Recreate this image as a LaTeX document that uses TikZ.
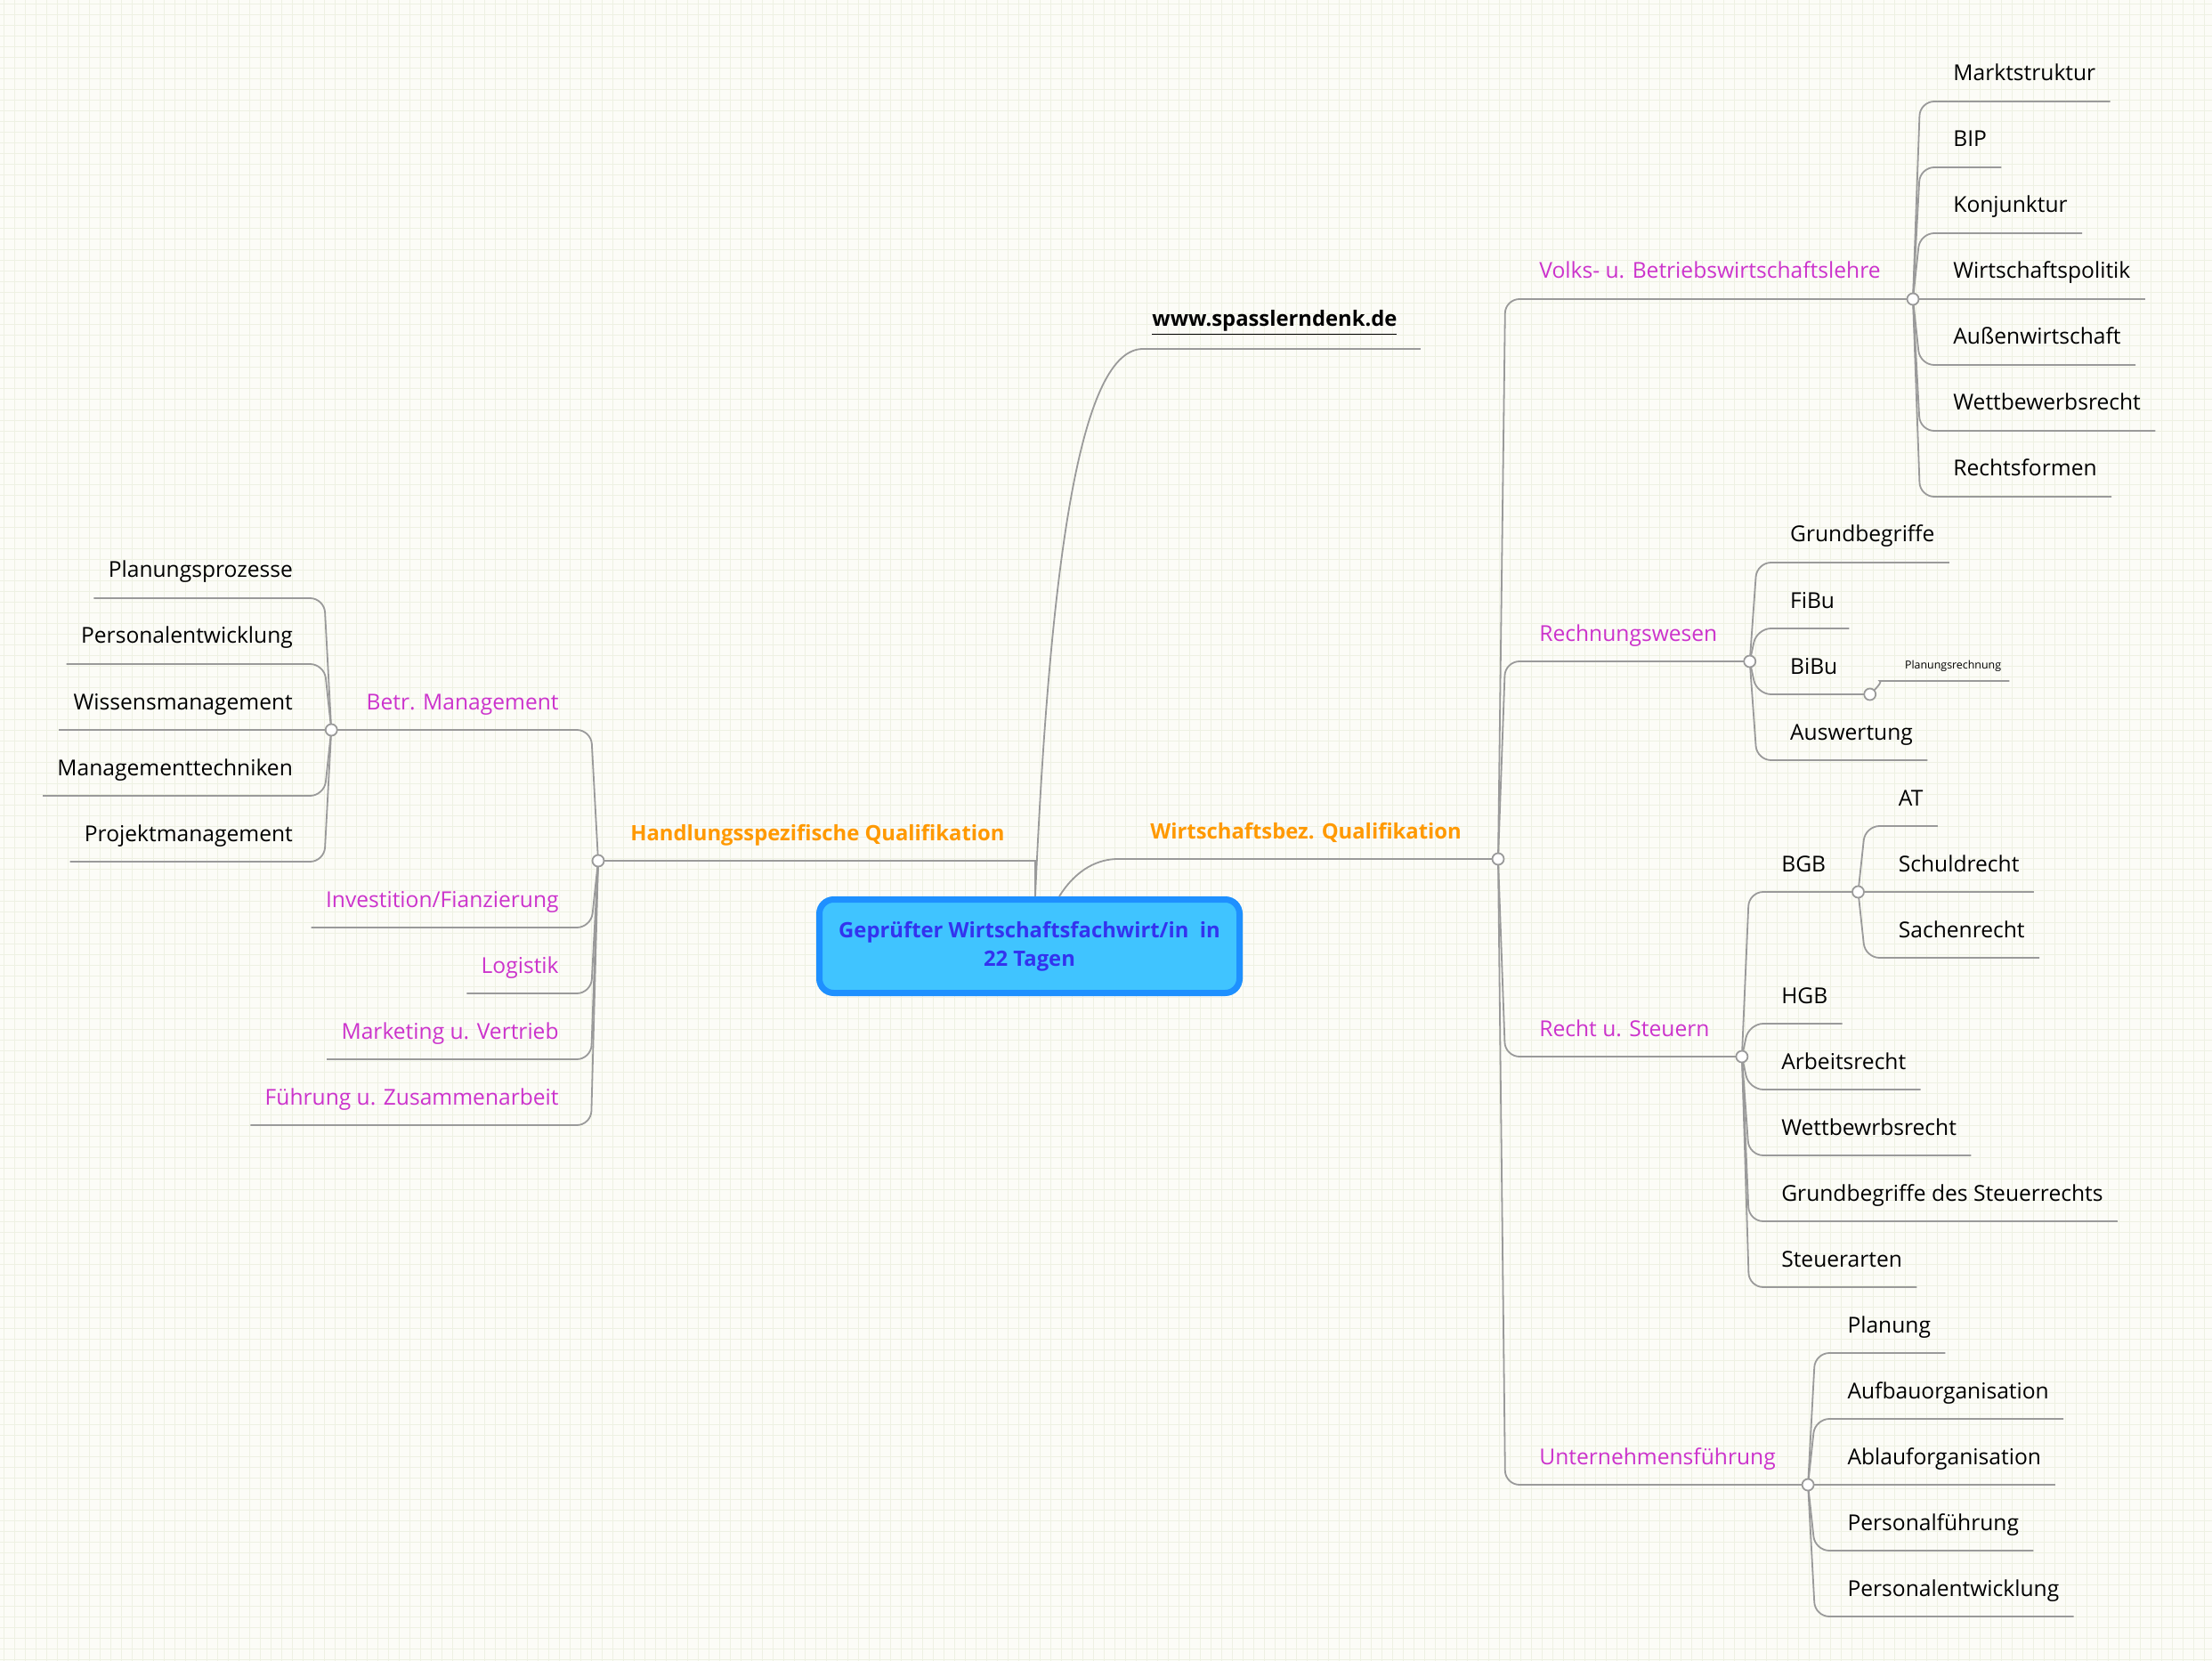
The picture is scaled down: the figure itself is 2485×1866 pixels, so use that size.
\documentclass[tikz,border=0pt]{standalone}
\usepackage{fontspec}
\setmainfont{Open Sans}
\usetikzlibrary{positioning,calc}
\definecolor{linegray}{HTML}{9A9A9A}
\definecolor{topicpink}{HTML}{CC33CC}
\definecolor{mainorange}{HTML}{FF9900}
\definecolor{rootblue}{HTML}{3333EE}
\definecolor{rootfill}{HTML}{40C4FF}
\definecolor{rootedge}{HTML}{1E90FF}
\definecolor{paper}{HTML}{FCFCF7}
\definecolor{gridline}{HTML}{EEF1E3}

\begin{document}
\begin{tikzpicture}[x=0.5pt,y=-0.5pt,
  every node/.style={inner sep=0pt,font=\fontsize{12.3}{16}\selectfont},
  leaf/.style={anchor=base west},
  leafl/.style={anchor=base east},
  topic/.style={text=topicpink},
  mainlab/.style={text=mainorange,font=\fontsize{11.9}{16}\selectfont\bfseries},
  branch/.style={draw=linegray,line width=0.9pt,rounded corners=8pt},
  knob/.style={circle,draw=linegray,fill=white,line width=0.9pt,minimum size=6.5pt},
  rootbox/.style={draw=rootedge,fill=rootfill,line width=3.5pt,rounded corners=8pt,
    text=rootblue,align=center,minimum width=236pt,minimum height=52.5pt,
    font=\fontsize{11.9}{16}\selectfont\bfseries}]
\useasboundingbox (0,0) rectangle (2485,1866);
\fill[paper] (0,0) rectangle (2485,1866);
\draw[gridline,line width=0.5pt,step=6pt,shift={(4.3,4.3)}] (-4.3,-4.3) grid (2481,1862);

% centre topic
\node[rootbox] (root) at (1156.5,1063) {Geprüfter Wirtschaftsfachwirt/in\ \ in\\22 Tagen};
\coordinate (hub) at ($(root.north)+(6.5,0)$);
\coordinate (hubr) at ($(root.north)+(33.5,0)$);

% web link
\node[leaf,font=\fontsize{11.9}{16}\selectfont\bfseries] (web) at (1294,367) {\underline{www.spasslerndenk.de}};
\draw[branch] (hub) .. controls (1180,620) and (1215,392) .. (1300,392) -- ($(web.base east)+(26,25)$);

% main branches
\coordinate (rj) at (1683,965);
\coordinate (lj) at (672,967);
\draw[branch] (hubr) .. controls (1210,975) and (1235,965) .. (1272,965) -- (rj);
\draw[branch,rounded corners=0pt] (hub) |- (lj);
\node[mainlab,leaf] (wq) at (1292,942) {Wirtschaftsbez. Qualifikation};
\node[mainlab,leaf] (hq) at (708,944) {Handlungsspezifische Qualifikation};

% right topics
\foreach \name/\y/\txt in {vbw/336/{Volks- u. Betriebswirtschaftslehre},rw/743/Rechnungswesen,rst/1187/{Recht u. Steuern},uf/1668/Unternehmensführung} {
  \node[topic,leaf] (t\name) at (1729,{\y-23}) {\txt};
  \coordinate (\name) at ($(t\name.base east)+(36,23)$);
  \draw[branch] (rj) -- (1691,\y) -- (\name);
}

% Volks- u. Betriebswirtschaftslehre
\foreach \i/\txt in {0/Marktstruktur,1/BIP,2/Konjunktur,3/Wirtschaftspolitik,4/Außenwirtschaft,5/Wettbewerbsrecht,6/Rechtsformen} {
  \node[leaf] (vbw\i) at ($(vbw)+(45,{74*(\i-3)-23})$) {\txt};
  \draw[branch] (vbw) -- ++(8,{74*(\i-3)}) -- ($(vbw\i.base east)+(16,23)$);
}

% Rechnungswesen
\foreach \i/\txt in {0/Grundbegriffe,1/FiBu,3/Auswertung} {
  \node[leaf] (rw\i) at ($(rw)+(45,{74*\i-111-23})$) {\txt};
  \draw[branch] (rw) -- ++(8,{74*\i-111}) -- ($(rw\i.base east)+(16,23)$);
}
\node[leaf] (rw2) at ($(rw)+(45,14)$) {BiBu};
\coordinate (bibu) at ($(rw2.base east)+(36,23)$);
\draw[branch] (rw) -- ++(8,37) -- (bibu);
\node[leaf,font=\fontsize{6.2}{8}\selectfont] (plr) at ($(bibu)+(39,-29)$) {Planungsrechnung};
\draw[branch] (bibu) .. controls +(12,-11) and +(-14,0) .. ($(bibu)+(27,-15)$) -- ($(plr.base east)+(9,14)$);

% Recht u. Steuern
\node[leaf] (bgb) at ($(rst)+(44,-208)$) {BGB};
\coordinate (bgbj) at ($(bgb.base east)+(36,23)$);
\draw[branch] (rst) -- ++(8,-185) -- (bgbj);
\foreach \i/\txt in {0/AT,1/Schuldrecht,2/Sachenrecht} {
  \node[leaf] (bgb\i) at ($(bgbj)+(45,{74*(\i-1)-23})$) {\txt};
  \draw[branch] (bgbj) -- ++(8,{74*(\i-1)}) -- ($(bgb\i.base east)+(16,23)$);
}
\foreach \i/\txt in {0/HGB,1/Arbeitsrecht,2/Wettbewrbsrecht,3/{Grundbegriffe des Steuerrechts},4/Steuerarten} {
  \node[leaf] (rst\i) at ($(rst)+(44,{74*\i-37-23})$) {\txt};
  \draw[branch] (rst) -- ++(8,{74*\i-37}) -- ($(rst\i.base east)+(16,23)$);
}

% Unternehmensführung
\foreach \i/\txt in {0/Planung,1/Aufbauorganisation,2/Ablauforganisation,3/Personalführung,4/Personalentwicklung} {
  \node[leaf] (uf\i) at ($(uf)+(44,{74*(\i-2)-23})$) {\txt};
  \draw[branch] (uf) -- ++(8,{74*(\i-2)}) -- ($(uf\i.base east)+(16,23)$);
}

% left topics
\node[topic,leafl] (tbm) at ($(lj)+(-44,-170)$) {Betr. Management};
\coordinate (bm) at ($(tbm.base west)+(-39,23)$);
\draw[branch] (lj) -- ++(-8,-147) -- (bm);
\foreach \d/\name/\txt in {75/inv/{Investition/Fianzierung},149/log/Logistik,223/mkv/{Marketing u. Vertrieb},297/fz/{Führung u. Zusammenarbeit}} {
  \node[topic,leafl] (t\name) at ($(lj)+(-44,{\d-23})$) {\txt};
  \draw[branch] (lj) -- ++(-8,\d) -- ($(t\name.base west)+(-16,23)$);
}

% Betr. Management
\foreach \i/\txt in {0/Planungsprozesse,1/Personalentwicklung,2/Wissensmanagement,3/Managementtechniken,4/Projektmanagement} {
  \node[leafl] (bm\i) at ($(bm)+(-43,{74*(\i-2)-23})$) {\txt};
  \draw[branch] (bm) -- ++(-8,{74*(\i-2)}) -- ($(bm\i.base west)+(-16,23)$);
}

% junction knobs
\foreach \k in {rj,lj,vbw,rw,rst,uf,bgbj,bibu,bm}
  \node[knob] at (\k) {};
\end{tikzpicture}
\end{document}
